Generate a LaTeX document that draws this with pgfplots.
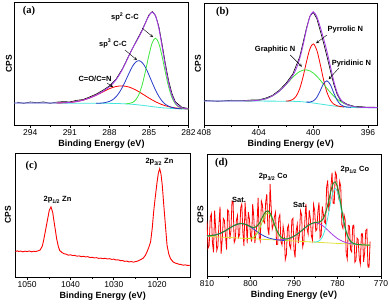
\documentclass[border=0pt]{standalone}
\usepackage{fontspec}
\setmainfont{Liberation Sans}
\newfontfamily\tnr{Liberation Serif}
\usepackage{pgfplots}
\pgfplotsset{compat=1.18}
\definecolor{cpurple}{RGB}{165,60,225}
\definecolor{cblue}{RGB}{40,60,200}
\definecolor{cgreen}{RGB}{60,230,60}
\definecolor{ccyan}{RGB}{70,230,220}
\definecolor{cred}{RGB}{245,20,20}
\definecolor{cdgreen}{RGB}{40,140,40}
\definecolor{clime}{RGB}{150,230,40}
\definecolor{cyellow}{RGB}{225,225,60}
\pgfplotsset{
 xpsaxis/.style={
   scale only axis, anchor=south west,
   axis line style={line width=0.8pt},
   x dir=reverse,
   ytick=\empty,
   xtick pos=bottom,
   tick align=outside,
   major tick length=3pt, minor tick length=1.8pt,
   minor x tick num=1,
   every tick/.style={black, line width=0.6pt},
   tick label style={font=\fontsize{8.5}{9}\selectfont},
   xticklabel style={inner sep=1pt},
   /pgf/number format/assume math mode=true,
   /pgf/number format/1000 sep={},
   xlabel={Binding Energy (eV)},
   xlabel style={font=\fontsize{9}{10}\selectfont\bfseries, at={(axis description cs:0.5,0)}, anchor=center, yshift=-19.5pt},
   ylabel={CPS},
   ylabel style={font=\fontsize{8.5}{9}\selectfont\bfseries, anchor=center, rotate=0},
   ymin=0, ymax=100,
   clip=true,
 },
}
\tikzset{
 ann/.style={font=\fontsize{7.5}{8}\selectfont\bfseries, inner sep=0pt},
 plab/.style={font=\tnr\bfseries\fontsize{10.5}{12}\selectfont, inner sep=0pt},
 arr/.style={->, >=stealth, line width=0.4pt},
}
\begin{document}
\begin{tikzpicture}
\path[use as bounding box] (0,0) rectangle (389pt,304pt);
% (a)
\begin{axis}[xpsaxis, at={(14.5pt,179pt)}, width=174pt, height=123pt,
  xmin=282, xmax=295.2, xtick={282,285,288,291,294},
  ylabel style={at={(axis description cs:-0.032,0.5)}}]
\addplot[black, line width=0.6pt] coordinates {(295.0,18.5) (294.5,17.6) (294.0,18.7) (293.5,18.1) (293.0,18.75) (292.5,17.6) (292.0,18.6) (291.5,19.0) (291.0,18.75) (290.5,20.0) (290.0,20.7) (289.5,22.8) (289.0,25.15) (288.5,28.2) (288.0,31.7) (287.5,37.2) (287.0,45.9) (286.5,57.0) (286.0,67.4) (285.5,77.6) (285.0,89.5) (284.75,92.3) (284.5,89.0) (284.25,80.1) (284.0,65.5) (283.75,49.6) (283.5,35.7) (283.25,25.45) (283.0,18.9) (282.5,14.4) (282.0,13.4)};
\addplot[ccyan, line width=0.8pt] coordinates {(282,13.0) (282.5,13.1) (283,13.3) (283.5,13.6) (284,14.0) (284.5,14.6) (285,15.3) (285.5,16.0) (286,16.6) (286.5,17.0) (287,17.3) (287.5,17.5) (288,17.6) (290,17.7) (292,17.8) (294,17.9) (295.2,17.9)};
\addplot[red, line width=0.8pt, smooth] coordinates {(292,17.9) (291.5,18.07) (291,18.35) (290.5,19.02) (290,20.2) (289.5,21.97) (289,24.25) (288.5,26.9) (288,29.5) (287.5,31.3) (287,31.8) (286.5,30.8) (286,28.5) (285.5,25.3) (285,21.9) (284.5,18.9) (284,16.5) (283.5,14.9) (283,13.9) (282.5,13.4) (282,13.1)};
\addplot[cblue, line width=0.8pt, smooth] coordinates {(289,17.65) (288.75,17.7) (288.5,17.9) (288.25,18.4) (288,19.2) (287.75,20.55) (287.5,22.9) (287.25,26.4) (287,31.0) (286.75,36.55) (286.5,42.4) (286.25,47.7) (286,51.2) (285.75,52.3) (285.5,50.6) (285.25,46.55) (285,40.7) (284.75,34.35) (284.5,28.3) (284.25,23.3) (284,19.4) (283.75,16.8) (283.5,15.2) (283.25,14.25) (283,13.6) (282.75,13.3) (282.5,13.1)};
\addplot[cgreen, line width=0.8pt, smooth] coordinates {(286.75,17.25) (286.5,17.5) (286.25,18.3) (286,20.5) (285.75,25.1) (285.5,33.2) (285.25,44.45) (285,56.9) (284.75,66.95) (284.5,70.6) (284.25,66.3) (284,55.6) (283.75,42.6) (283.5,30.8) (283.25,22.25) (283,17.2) (282.75,14.7) (282.5,13.6) (282.25,13.15) (282,13.0)};
\addplot[cpurple, line width=0.9pt, smooth] coordinates {(295.2,17.9) (294,17.9) (293,17.85) (292,17.9) (291.5,18.07) (291,18.35) (290.5,19.02) (290,20.2) (289.5,21.97) (289,24.25) (288.5,27.2) (288,31.1) (287.75,33.55) (287.5,36.7) (287.25,40.7) (287,45.5) (286.75,50.95) (286.5,56.7) (286.25,62.2) (286,67.0) (285.75,71.8) (285.5,77.1) (285.25,83.35) (285,88.9) (284.75,91.75) (284.5,88.6) (284.25,78.6) (284,63.5) (283.75,47.4) (283.5,33.7) (283.25,23.95) (283,18.1) (282.75,15.25) (282.5,13.9) (282.25,13.35) (282,13.1)};
\node[plab] at (axis description cs:0.083,0.923) {(a)};
\node[ann] at (axis cs:286.82,88.2) {sp\textsuperscript{2} C-C};
\draw[arr] (axis cs:285.53,78.9) -- (axis cs:284.69,71.5);
\node[ann] at (axis cs:287.73,66.3) {sp\textsuperscript{3} C-C};
\draw[arr] (axis cs:286.82,61) -- (axis cs:285.91,52.8);
\node[ann] at (axis cs:289.09,37.4) {C=O/C=N};
\draw[arr] (axis cs:288.18,34.1) -- (axis cs:287.73,30.9);
\end{axis}
% (b)
\begin{axis}[xpsaxis, at={(204pt,179pt)}, width=173.5pt, height=122pt,
  xmin=395.3, xmax=408, xtick={396,400,404,408},
  ylabel style={at={(axis description cs:-0.035,0.5)}}]
\addplot[black, line width=0.6pt] coordinates {(408,20.2) (407,19.4) (406,20.25) (405,20.1) (404.5,20.5) (404,20.6) (403.5,22.0) (403,24.25) (402.5,28.4) (402,34.1) (401.5,41.8) (401,55.7) (400.5,79.3) (400.25,89.25) (400,92.3) (399.75,87.4) (399.5,77.6) (399.25,67.4) (399,56.2) (398.75,44.6) (398.5,33.4) (398.25,25.0) (398,20.0) (397.5,16.9) (397,15.3) (396.5,15.0) (396,14.5) (395.5,14.7)};
\addplot[ccyan, line width=0.8pt, smooth] coordinates {(395.3,14.2) (396.5,14.2) (397,14.3) (397.5,14.6) (398,15.0) (398.5,15.6) (399,16.4) (399.5,17.2) (400,18.0) (400.5,18.7) (401,19.2) (401.5,19.4) (402,19.5) (404,19.6) (406,19.65) (408,19.7)};
\addplot[red, line width=0.8pt, smooth] coordinates {(402,19.6) (401.75,19.85) (401.5,20.9) (401.25,23.7) (401,29.6) (400.75,39.35) (400.5,51.7) (400.25,62.35) (400,66.5) (399.75,61.6) (399.5,50.2) (399.25,37.2) (399,26.8) (398.75,20.4) (398.5,17.1) (398.25,15.7) (398,15.1) (397.75,14.8)};
\addplot[cgreen, line width=0.8pt, smooth] coordinates {(405,19.72) (404.5,19.8) (404,20.3) (403.5,21.37) (403,23.75) (402.5,27.63) (402,33.1) (401.75,36.15) (401.5,39.1) (401.25,41.7) (401,43.8) (400.75,44.95) (400.5,45.2) (400.25,44.35) (400,42.6) (399.75,40.0) (399.5,36.9) (399.25,33.5) (399,30.0) (398.75,26.7) (398.5,23.7) (398.25,21.2) (398,19.2) (397.75,17.6) (397.5,16.4) (397.25,15.65) (397,15.0) (396.75,14.65) (396.5,14.4) (396,14.3)};
\addplot[cblue, line width=0.8pt, smooth] coordinates {(400.5,18.8) (400.25,18.75) (400,19.7) (399.75,22.5) (399.5,27.9) (399.25,33.8) (399,36.2) (398.75,33.0) (398.5,26.3) (398.25,20.2) (398,16.7) (397.75,15.2) (397.5,14.7) (397.25,14.45)};
\addplot[cpurple, line width=0.9pt, smooth] coordinates {(408,19.7) (406,19.65) (405,19.72) (404.5,19.8) (404,20.3) (403.5,21.37) (403,23.75) (402.5,27.63) (402.25,30.22) (402,33.2) (401.75,36.55) (401.5,40.6) (401.25,46.1) (401,54.2) (400.75,65.35) (400.5,78.3) (400.25,88.75) (400,92.8) (399.75,88.9) (399.5,80.6) (399.25,70.9) (399,60.2) (398.75,48.1) (398.5,35.9) (398.25,26.5) (398,21.0) (397.75,18.0) (397.5,16.5) (397.25,15.65) (397,15.0) (396.75,14.65) (396.5,14.4) (396,14.3) (395.3,14.2)};
\node[plab] at (axis description cs:0.107,0.93) {(b)};
\node[ann] at (axis cs:397.65,78.3) {Pyrrolic N};
\draw[arr] (axis cs:399.0,73.8) -- (axis cs:399.8,67.0);
\node[ann] at (axis cs:402.79,61.5) {Graphitic N};
\draw[arr] (axis cs:401.69,57.4) -- (axis cs:400.83,47.8);
\node[ann] at (axis cs:397.21,50.4) {Pyridinic N};
\draw[arr] (axis cs:398.14,46.5) -- (axis cs:398.87,37.5);
\end{axis}
% (c)
\begin{axis}[xpsaxis, at={(15.5pt,27pt)}, width=174.5pt, height=124pt,
  xmin=1012.4, xmax=1052.7, xtick={1020,1030,1040,1050},
  ylabel style={at={(axis description cs:-0.043,0.5)}}]
\addplot[red, line width=0.9pt] coordinates {(1052.7,20.5) (1052.3,21.1) (1052,20.6) (1051.5,20.9) (1051,20.3) (1050.5,20.8) (1050,20.5) (1049.5,21.0) (1049,20.3) (1048.5,20.8) (1048,20.5) (1047.5,21.1) (1047,21.8) (1046.5,25.0) (1046.2,29.6) (1045.8,37) (1045.4,44.4) (1044.9,53.8) (1044.5,56.5) (1044.1,52) (1043.9,47.0) (1043.5,38) (1043.2,30.9) (1042.8,24.5) (1042.5,21.5) (1042,19.8) (1041.5,18.8) (1041,18.4) (1040.5,17.6) (1040,17.9) (1039.5,17.3) (1039,17.4) (1038.5,16.8) (1038,17.0) (1037.5,16.4) (1037,16.7) (1036.5,16.2) (1036,16.4) (1035.5,15.7) (1035,15.9) (1034.5,15.4) (1034,15.6) (1033.5,15.0) (1033,15.2) (1032.5,14.8) (1032,15.1) (1031.5,14.5) (1031,14.8) (1030.5,14.2) (1030,14.4) (1029.5,13.7) (1029,13.9) (1028.5,13.2) (1028,13.3) (1027.5,12.6) (1027,12.8) (1026.5,12.2) (1026,12.4) (1025.4,12.0) (1024.9,12.5) (1024.5,12.8) (1023.9,13.8) (1023.2,15.2) (1022.7,17.5) (1022.3,20.5) (1021.9,24.0) (1021.5,28.2) (1021.1,40) (1020.8,52.4) (1020.4,65) (1020.0,76.6) (1019.7,84) (1019.4,87.3) (1019.1,83) (1018.8,73.9) (1018.5,60) (1018.2,47.0) (1017.9,34) (1017.7,25.6) (1017.3,18.5) (1016.9,14.8) (1016.3,12.2) (1015.8,11.2) (1015.4,10.9) (1015,10.3) (1014.5,10.1) (1014,9.5) (1013.5,9.8) (1013,9.3) (1012.4,9.5)};
\node[plab] at (axis description cs:0.092,0.895) {(c)};
\node[ann] at (axis cs:1043.0,62.1) {2p\textsubscript{1/2} Zn};
\node[ann] at (axis cs:1019.45,92.7) {2p\textsubscript{3/2} Zn};
\end{axis}
% (d)
\begin{axis}[xpsaxis, at={(207pt,28pt)}, width=174pt, height=122pt,
  xmin=770, xmax=810, xtick={770,780,790,800,810},
  ylabel style={at={(axis description cs:-0.037,0.5)}}]
\addplot[red, line width=0.8pt] coordinates {(810,44.8) (809.75,22.85) (809.5,24.9) (809.25,48.0) (809,51.1) (808.75,27.25) (808.5,19.4) (808.25,53.55) (808,38.7) (807.75,21.0) (807.5,24.3) (807.25,42.6) (807,56.9) (806.75,18.3) (806.5,29.7) (806.25,47.15) (806,45.6) (805.75,33.15) (805.5,21.7) (805.25,54.25) (805,52.8) (804.75,30.35) (804.5,36.9) (804.25,61.4) (804,60.9) (803.75,27.35) (803.5,29.8) (803.25,45.15) (803,49.5) (802.75,31.65) (802.5,33.8) (802.25,55.9) (802,59.0) (801.75,35.8) (801.5,24.6) (801.25,60.35) (801,46.1) (800.75,26.7) (800.5,52.3) (800.25,46.9) (800,33.5) (799.75,28.2) (799.5,58.9) (799.25,48.9) (799,26.9) (798.75,35.4) (798.5,42.9) (798.25,63.95) (798,32.0) (797.75,28.7) (797.5,61.4) (797.25,58.2) (797,45.0) (796.75,43.4) (796.5,60.8) (796.25,67.1) (796,38.4) (795.75,33.45) (795.5,75.5) (795.25,56.5) (795,38.5) (794.75,42.0) (794.5,48.5) (794.25,52.15) (794,25.8) (793.75,26.05) (793.5,47.3) (793.25,50.15) (793,28.0) (792.75,25.4) (792.5,40.8) (792.25,34.6) (792,13.4) (791.75,17.45) (791.5,39.5) (791.25,41.75) (791,25.0) (790.75,22.4) (790.5,45.8) (790.25,47.2) (790,21.6) (789.75,15.2) (789.5,36.8) (789.25,42.4) (789,27.0) (788.75,33.7) (788.5,53.4) (788.25,50.15) (788,23.9) (787.75,27.65) (787.5,45.4) (787.25,59.1) (787,38.8) (786.75,34.35) (786.5,53.9) (786.25,47.4) (786,32.9) (785.75,29.25) (785.5,58.6) (785.25,53.75) (785,36.9) (784.75,38.0) (784.5,53.1) (784.25,60.3) (784,31.5) (783.75,33.25) (783.5,57.0) (783.25,50.6) (783,44.2) (782.75,42.95) (782.5,72.7) (782.25,78.4) (782,53.1) (781.75,61.0) (781.5,74.0) (781.25,84.8) (781,59.7) (780.75,59.4) (780.5,85.1) (780.25,83.0) (780,69.9) (779.75,64.7) (779.5,77.5) (779.25,73.2) (779,42.0) (778.75,39.1) (778.5,50.2) (778.25,46.3) (778,18.4) (777.75,13.9) (777.5,41.4) (777.25,41.0) (777,21.5) (776.75,19.8) (776.5,41.0) (776.25,41.7) (776,11.3) (775.75,13.15) (775.5,31.0) (775.25,29.85) (775,14.7) (774.75,9.65) (774.5,34.6) (774.25,34.55) (774,11.5) (773.75,19.45) (773.5,37.4) (773.25,38.35) (773,7.3) (772.75,7.25) (772.5,28.2)};
\addplot[cyellow, line width=0.8pt] coordinates {(810,32.5) (791,28.9) (772.5,25.2)};
\addplot[cblue, line width=0.8pt, smooth] coordinates {(810,32.8) (809,33.1) (808,33.7) (807,34.9) (806,36.6) (805,38.8) (804,40.9) (803,42.5) (802,43.0) (801,42.1) (800,40.2) (799,37.7) (798,35.1) (797,33.0) (796,31.4) (795,30.4) (794,29.7) (793,29.3) (792,29.0)};
\addplot[clime, line width=0.8pt, smooth] coordinates {(800.5,30.8) (800,30.9) (799.5,31.4) (799,32.6) (798.5,34.8) (798,38.1) (797.5,42.5) (797,47.0) (796.5,50.5) (796,51.8) (795.5,50.3) (795,46.6) (794.5,41.9) (794,37.3) (793.5,33.8) (793,31.4) (792.5,30.1) (792,29.4) (791.5,29.0)};
\addplot[cpurple, line width=0.8pt, smooth] coordinates {(794,29.6) (793,29.7) (792,30.05) (791,31.0) (790,32.6) (789,35.0) (788,37.9) (787,40.8) (786,42.9) (785,43.6) (784,42.5) (783,40.05) (782,36.75) (781,33.5) (780,30.7) (779,28.7) (778,27.3) (777,26.5) (776,26.1)};
\addplot[ccyan, line width=0.8pt, smooth] coordinates {(785.5,27.8) (785,27.9) (784.5,28.3) (784,29.4) (783.5,31.85) (783,36.35) (782.5,43.35) (782,52.35) (781.5,61.86) (781,69.06) (780.5,71.76) (780,68.86) (779.5,61.47) (779,51.77) (778.5,42.57) (778,35.37) (777.5,30.68) (777,28.06) (776.5,26.74) (776,26.14) (775.5,25.86)};
\addplot[cdgreen, line width=1pt, smooth] coordinates {(810,32.8) (809,33.1) (808,33.7) (807,34.9) (806,36.6) (805,38.8) (804,40.9) (803,42.5) (802,42.95) (801,42.1) (800.5,41.3) (800,40.5) (799.5,39.9) (799,39.9) (798.5,40.9) (798,42.97) (797.5,46.4) (797,49.98) (796.5,52.8) (796,53.4) (795.5,51.5) (795,47.45) (794.5,42.5) (794,37.8) (793.5,34.3) (793,31.96) (792.5,30.8) (792,30.4) (791.5,30.5) (791,31.0) (790,32.6) (789,35.0) (788,37.9) (787,40.8) (786,42.9) (785.5,43.6) (785,43.9) (784.5,44.1) (784,44.5) (783.5,45.95) (783,49.15) (782.5,54.65) (782,62.05) (781.5,69.96) (781,75.66) (780.5,77.06) (780,72.86) (779.5,64.47) (779,53.97) (778.5,44.17) (778,36.42) (777.5,31.43) (777,28.52) (776.5,27.04) (776,26.32) (775.5,25.96) (775,25.74) (774,25.49) (773,25.3) (772.5,25.2)};
\node[plab] at (axis description cs:0.083,0.926) {(d)};
\node[ann] at (axis cs:802.64,62.3) {Sat.};
\node[ann] at (axis cs:794.8,81.1) {2p\textsubscript{3/2} Co};
\node[ann] at (axis cs:788.6,58.2) {Sat.};
\node[ann] at (axis cs:776.0,86.9) {2p\textsubscript{1/2} Co};
\end{axis}
\end{tikzpicture}
\end{document}
